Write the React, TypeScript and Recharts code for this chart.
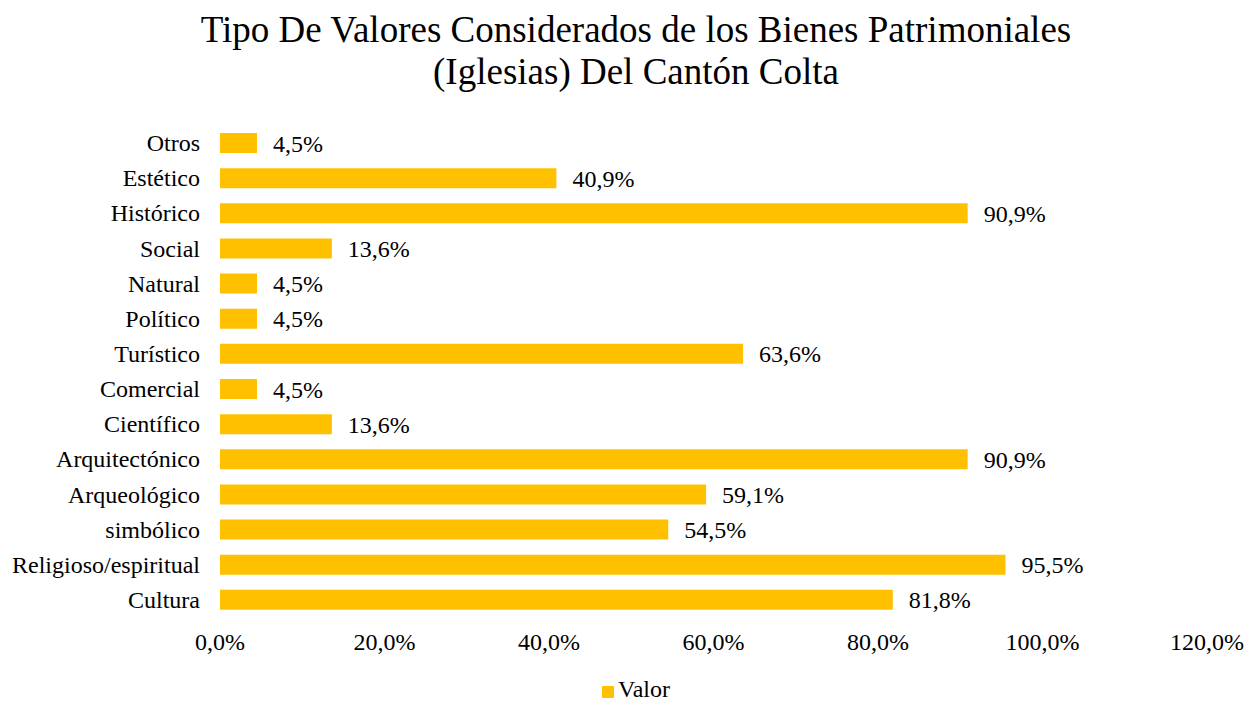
import { Bar, BarChart, LabelList, Legend, XAxis, YAxis } from "recharts";

const categories = [
  "Otros",
  "Estético",
  "Histórico",
  "Social",
  "Natural",
  "Político",
  "Turístico",
  "Comercial",
  "Científico",
  "Arquitectónico",
  "Arqueológico",
  "simbólico",
  "Religioso/espiritual",
  "Cultura",
];

const valores = [4.5, 40.9, 90.9, 13.6, 4.5, 4.5, 63.6, 4.5, 13.6, 90.9, 59.1, 54.5, 95.5, 81.8];

const xTicks = [0, 20, 40, 60, 80, 100, 120];

const FONT = '"Liberation Serif", "Times New Roman", serif';
const GOLD = "#FFC000";

const fmt = (v: number) => `${v.toFixed(1).replace(".", ",")}%`;

function LegendBox() {
  return (
    <div
      style={{
        display: "flex",
        justifyContent: "center",
        alignItems: "center",
        height: 26,
        lineHeight: "26px",
        fontFamily: FONT,
        fontSize: 24,
        color: "#000",
      }}
    >
      <span
        style={{ display: "inline-block", width: 12, height: 12, background: GOLD, marginRight: 4, position: "relative", top: 3 }}
      />
      <span>Valor</span>
    </div>
  );
}

export default function App() {
  const data = categories.map((name, i) => ({ name, valor: valores[i] }));

  return (
    <div style={{ position: "absolute", left: 0, top: 0, width: 1250, height: 702, background: "#fff", fontFamily: FONT }}>
      <div
        style={{
          position: "absolute",
          top: 9,
          left: 0,
          width: 1272,
          textAlign: "center",
          fontSize: 37,
          lineHeight: "42px",
          color: "#000",
        }}
      >
        Tipo De Valores Considerados de los Bienes Patrimoniales
        <br />
        (Iglesias) Del Cantón Colta
      </div>
      <BarChart
        width={1250}
        height={702}
        layout="vertical"
        data={data}
        margin={{ top: 125, right: 43, left: 0, bottom: 19 }}
      >
        <XAxis
          type="number"
          domain={[0, 120]}
          ticks={xTicks}
          tickFormatter={fmt}
          axisLine={false}
          tickLine={false}
          tickSize={0}
          tickMargin={16}
          height={40}
          interval={0}
          tick={{ fill: "#000", fontSize: 24, fontFamily: FONT }}
        />
        <YAxis
          type="category"
          dataKey="name"
          width={220}
          axisLine={false}
          tickLine={false}
          tickSize={0}
          tickMargin={20}
          interval={0}
          tick={{ fill: "#000", fontSize: 24, fontFamily: FONT }}
        />
        <Legend
          verticalAlign="bottom"
          wrapperStyle={{ bottom: 0, left: 0, width: 1272, height: 26 }}
          content={() => <LegendBox />}
        />
        <Bar dataKey="valor" name="Valor" fill={GOLD} barSize={20} isAnimationActive={false}>
          <LabelList
            dataKey="valor"
            position="right"
            offset={16}
            formatter={(v: number) => fmt(v)}
            style={{ fill: "#000", fontSize: 24, fontFamily: FONT }}
          />
        </Bar>
      </BarChart>
    </div>
  );
}
